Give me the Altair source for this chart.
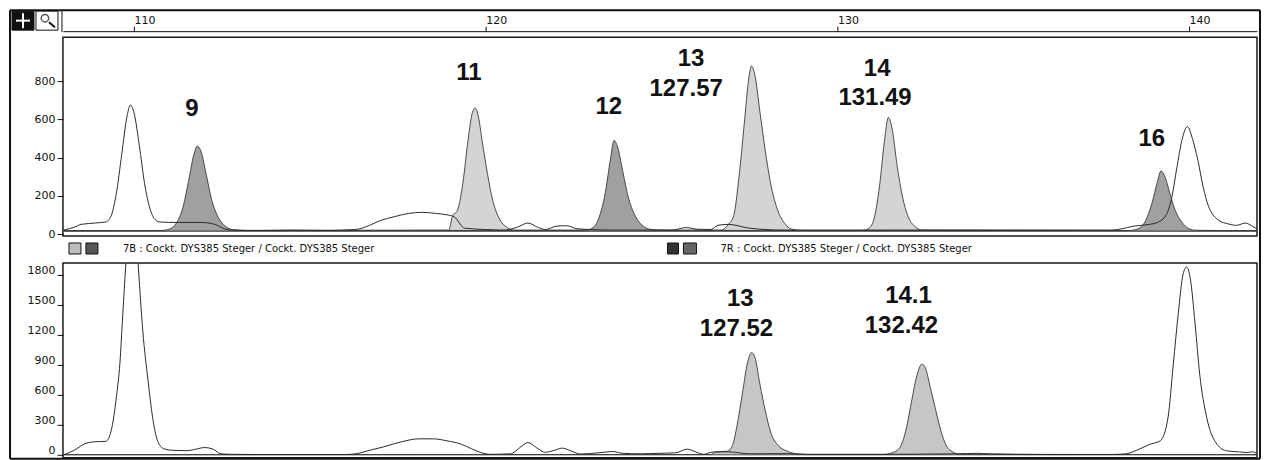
import altair as alt
import pandas as pd

# ---------------- data ----------------
# top panel, unshaded (outline) trace
top_out_x = [108.0, 108.3, 108.5, 108.9, 109.2, 109.35, 109.5, 109.65, 109.8, 109.9, 110.0, 110.15, 110.3,
             110.45, 110.6, 110.75, 111.2, 111.5, 111.9, 112.3, 112.6, 112.8, 113.5, 114.5, 115.5, 116.3,
             116.7, 117.0, 117.4, 117.8, 118.2, 118.6, 118.9, 119.1, 119.4, 120.0, 120.5, 120.9, 121.2,
             121.5, 121.7, 122.0, 122.3, 122.6, 123.0, 123.5, 124.5, 125.3, 125.7, 126.0, 126.4, 126.6,
             126.9, 127.5, 128.5, 130.0, 132.0, 134.0, 136.0, 137.8, 138.1, 138.4, 138.8, 139.1, 139.35,
             139.5, 139.65, 139.8, 139.95, 140.1, 140.25, 140.4, 140.55, 140.7, 140.85, 141.1, 141.35,
             141.6, 141.8, 141.95]
top_out_y = [5, 20, 35, 42, 48, 80, 200, 400, 600, 660, 620, 450, 250,
             120, 60, 47, 45, 45, 45, 35, 10, 5, 3, 5, 3, 8,
             30, 55, 75, 92, 98, 92, 85, 75, 15, 8, 5, 20, 42,
             18, 8, 25, 28, 12, 8, 5, 5, 5, 18, 10, 8, 30,
             35, 15, 5, 5, 5, 5, 5, 5, 12, 25, 33, 45, 85,
             170, 330, 480, 548, 480, 370, 230, 130, 80, 55, 38, 30,
             42, 25, 10]

# top panel, dark shaded trace (peaks 9, 12, 16)
top_dark_x = [108.0, 110.8, 111.0, 111.2, 111.4, 111.55, 111.7, 111.8, 111.9, 112.05, 112.2, 112.4, 112.6,
              112.8, 113.2, 122.8, 123.0, 123.2, 123.4, 123.55, 123.65, 123.75, 123.9, 124.05, 124.25,
              124.45, 124.7, 125.0, 138.3, 138.55, 138.75, 138.95, 139.1, 139.2, 139.3, 139.45, 139.6,
              139.8, 140.0, 140.2, 141.95]
top_dark_y = [2, 3, 10, 40, 130, 260, 400, 445, 420, 300, 170, 70, 25,
              8, 3, 3, 12, 60, 200, 380, 475, 440, 310, 180, 80,
              30, 8, 3, 3, 12, 50, 150, 260, 315, 290, 200, 110,
              45, 12, 4, 2]

# top panel, light shaded trace (peaks 11, 13, 14)
top_light_x = [108.0, 118.95, 119.05, 119.2, 119.35, 119.5, 119.62, 119.7, 119.78, 119.9, 120.05, 120.2,
               120.4, 120.6, 120.8, 126.7, 126.9, 127.05, 127.2, 127.35, 127.48, 127.56, 127.65, 127.8,
               127.95, 128.1, 128.3, 128.5, 128.7, 129.0, 130.7, 130.9, 131.05, 131.2, 131.33, 131.45,
               131.55, 131.7, 131.85, 132.0, 132.2, 132.4, 141.95]
top_light_y = [2, 5, 75, 110, 250, 480, 620, 645, 610, 470, 300, 160,
               60, 20, 5, 5, 35, 80, 280, 560, 800, 865, 820, 620,
               420, 250, 110, 40, 10, 3, 3, 15, 70, 240, 460, 595,
               540, 340, 180, 80, 25, 5, 2]

# bottom panel, unshaded (outline) trace
bot_out_x = [108.0, 108.27, 108.6, 108.85, 109.2, 109.35, 109.5, 109.6, 109.68, 109.77, 109.85, 109.95,
             110.05, 110.12, 110.25, 110.4, 110.53, 110.67, 110.85, 111.1, 111.5, 111.8, 112.0, 112.24,
             112.47, 112.8, 113.5, 114.5, 115.5, 116.0, 116.3, 116.7, 117.1, 117.6, 118.1, 118.5, 118.9,
             119.3, 119.6, 119.86, 120.14, 120.7, 121.0, 121.2, 121.45, 121.7, 121.95, 122.18, 122.45,
             122.7, 123.2, 123.6, 123.9, 124.4, 124.9, 125.4, 125.73, 126.0, 126.2, 126.4, 126.6, 126.9,
             127.5, 128.6, 129.2, 131.0, 133.4, 134.0, 134.3, 136.0, 137.8, 138.2, 138.6, 138.9, 139.18,
             139.4, 139.55, 139.69, 139.83, 139.93, 140.03, 140.17, 140.3, 140.5, 140.79, 141.07, 141.4,
             141.64, 141.8, 141.95]
bot_out_y = [0, 40, 110, 130, 135, 240, 580, 920, 1400, 1920, 2300, 2450,
             2300, 1900, 1240, 740, 373, 140, 60, 45, 42, 60, 73, 58,
             10, 5, 3, 3, 3, 3, 10, 45, 80, 130, 160, 160, 140,
             107, 60, 23, 5, 10, 80, 123, 70, 25, 45, 67, 35,
             8, 20, 33, 15, 10, 15, 20, 57, 25, 5, 25, 30, 30,
             10, 12, 5, 5, 10, 15, 10, 3, 3, 10, 60, 107, 140,
             373, 907, 1410, 1810, 1880, 1773, 1310, 810, 373, 107, 40, 30,
             23, 30, 5]

# bottom panel, shaded trace (peaks 13, 14.1)
bot_sh_x = [108.0, 126.4, 126.55, 126.85, 127.0, 127.15, 127.3, 127.45, 127.56, 127.65, 127.8, 127.95,
            128.1, 128.3, 128.55, 128.8, 129.1, 131.3, 131.55, 131.75, 131.95, 132.1, 132.25, 132.4,
            132.5, 132.65, 132.8, 132.95, 133.1, 133.3, 133.5, 141.95]
bot_sh_y = [2, 3, 30, 35, 80, 300, 620, 930, 1023, 980, 700, 440,
            230, 100, 40, 12, 3, 3, 20, 60, 250, 520, 780, 907,
            870, 660, 440, 230, 90, 25, 5, 2]

# allele labels
top_lab_text = ["9", "11", "12", "13", "127.57", "14", "131.49", "16"]
top_lab_x = [111.65, 119.52, 123.5, 125.84, 125.7, 131.13, 131.07, 138.94]
top_lab_y = [639, 827, 649, 899, 742, 848, 697, 482]
bot_lab_text = ["13", "127.52", "14.1", "132.42"]
bot_lab_x = [127.24, 127.13, 132.02, 131.82]
bot_lab_y = [1560, 1260, 1590, 1290]

x_ticks = [110, 120, 130, 140]
top_y_ticks = [0, 200, 400, 600, 800]
bot_y_ticks = [0, 300, 600, 900, 1200, 1500, 1800]
header_left = "7B : Cockt. DYS385 Steger / Cockt. DYS385 Steger"
header_right = "7R : Cockt. DYS385 Steger / Cockt. DYS385 Steger"

# ---------------- tables ----------------
def tbl(xs, ys):
    return pd.DataFrame({"x": xs, "y": ys})

df_top_out = tbl(top_out_x, top_out_y)
df_top_dark = tbl(top_dark_x, top_dark_y)
df_top_light = tbl(top_light_x, top_light_y)
df_bot_out = tbl(bot_out_x, bot_out_y)
df_bot_sh = tbl(bot_sh_x, bot_sh_y)
df_top_lab = pd.DataFrame({"x": top_lab_x, "y": top_lab_y, "t": top_lab_text})
df_bot_lab = pd.DataFrame({"x": bot_lab_x, "y": bot_lab_y, "t": bot_lab_text})
one = pd.DataFrame({"a": [0]})

W = 1195
H_TOP = 199
H_BOT = 195
XDOM = [107.98, 141.93]

xs = alt.Scale(domain=XDOM, nice=False, zero=False)
ax_top = alt.Axis(orient="top", values=x_ticks, offset=6, tickSize=5, labelPadding=1,
                  labelAlign="left", labelFlush=False, format="d", title=None, grid=False,
                  domainColor="#111", tickColor="#111", labelColor="#111", labelFontSize=11)
X_top = alt.X("x:Q", scale=xs, axis=ax_top)
X_bot = alt.X("x:Q", scale=xs, axis=None)

def yaxis(vals, tick_off, lab_off):
    return alt.Axis(values=vals, tickSize=6, labelPadding=2, tickOffset=tick_off, labelOffset=lab_off,
                    domain=False, grid=False, title=None, format="d", tickColor="#111",
                    labelColor="#111", labelFontSize=11)

Y_top = alt.Y("y:Q", scale=alt.Scale(domain=[-26, 1016], nice=False, zero=False),
              axis=yaxis(top_y_ticks, 3, 0))
Y_bot = alt.Y("y:Q", scale=alt.Scale(domain=[-30, 1920], nice=False, zero=False),
              axis=yaxis(bot_y_ticks, 0, -4))


def area(df, X, Y, fill):
    return alt.Chart(df).mark_area(interpolate="monotone", clip=True, fill=fill,
                                   stroke="#3a3a3a", strokeWidth=0.9).encode(x=X, y=Y)


def line(df, X, Y):
    return alt.Chart(df).mark_line(interpolate="monotone", clip=True, color="#2a2a2a",
                                   strokeWidth=1).encode(x=X, y=Y)


def labels(df, X, Y):
    return alt.Chart(df).mark_text(font="Liberation Sans", fontSize=24, fontWeight="bold",
                                   color="#111", align="center", baseline="middle").encode(
        x=X, y=Y, text="t:N")


def vrule(x, y1, y2, w=1.5, c="#111"):
    return alt.Chart(one).mark_rule(color=c, strokeWidth=w).encode(
        x=alt.value(x), y=alt.value(y1), y2=alt.value(y2))


def hrule(y, x1, x2, w=1.5, c="#111"):
    return alt.Chart(one).mark_rule(color=c, strokeWidth=w).encode(
        y=alt.value(y), x=alt.value(x1), x2=alt.value(x2))


def box(x1, x2, y1, y2, fill, stroke="#111"):
    return alt.Chart(one).mark_rect(fill=fill, stroke=stroke, strokeWidth=1).encode(
        x=alt.value(x1), x2=alt.value(x2), y=alt.value(y1), y2=alt.value(y2))


# window frame and toolbar icons (decoration, pixels relative to the top plot)
frame = [
    vrule(-53, -27, 422, 2),
    vrule(1198, -27, 422, 2),
    hrule(-27, -53, 1198, 2),
    hrule(422, -53, 1198, 2),
    vrule(-1, -27, -5, 1),
    box(-51, -29, -26, -7, "#111"),
    hrule(-16.5, -47, -33, 2, "white"),
    vrule(-40, -24, -9, 2, "white"),
    box(-27, -5, -26, -7, "white"),
    alt.Chart(one).mark_point(shape="circle", size=55, filled=False, color="#111", strokeWidth=1.5).encode(
        x=alt.value(-18), y=alt.value(-19)),
    alt.Chart(one).mark_rule(color="#111", strokeWidth=2).encode(
        x=alt.value(-14), x2=alt.value(-8), y=alt.value(-15), y2=alt.value(-10)),
]

top = alt.layer(
    *frame,
    area(df_top_light, X_top, Y_top, "#d4d4d4"),
    area(df_top_dark, X_top, Y_top, "#a0a0a0"),
    line(df_top_out, X_top, Y_top),
    labels(df_top_lab, X_top, Y_top),
).properties(width=W, height=H_TOP)

header = [
    box(6, 18, -20, -9, "#bdbdbd"),
    box(23, 35, -20, -9, "#555555"),
    box(605, 616, -20, -9, "#333333"),
    box(621, 634, -20, -9, "#666666"),
    alt.Chart(one).mark_text(align="left", baseline="middle", font="DejaVu Sans", fontSize=10,
                             color="#111", text=header_left).encode(x=alt.value(60), y=alt.value(-14)),
    alt.Chart(one).mark_text(align="left", baseline="middle", font="DejaVu Sans", fontSize=10,
                             color="#111", text=header_right).encode(x=alt.value(658), y=alt.value(-14)),
]

bottom = alt.layer(
    *header,
    area(df_bot_sh, X_bot, Y_bot, "#c6c6c6"),
    line(df_bot_out, X_bot, Y_bot),
    labels(df_bot_lab, X_bot, Y_bot),
).properties(width=W, height=H_BOT)

chart = alt.vconcat(top, bottom, spacing=27, bounds="flush").properties(
    padding=0, background="white"
).configure_view(stroke="#1a1a1a", strokeWidth=1.5).configure_axis(
    labelFont="DejaVu Sans"
)

chart.save("out.html", embed_options={"renderer": "svg", "actions": False})
